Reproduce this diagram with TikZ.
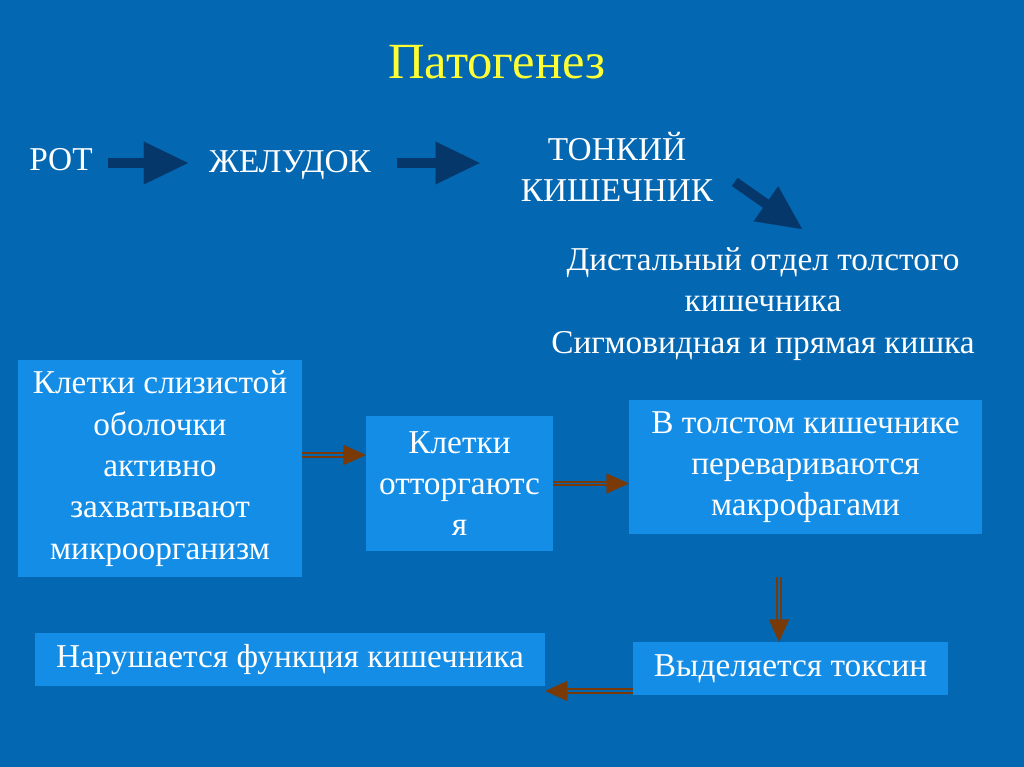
\documentclass[tikz,border=0pt]{standalone}
\usepackage{fontspec}
\setmainfont{Liberation Serif}
\usepackage{tikz}
\usetikzlibrary{arrows.meta}
\definecolor{SlideBlue}{HTML}{0467B1}
\definecolor{BoxBlue}{HTML}{138DE6}
\definecolor{FlowDark}{HTML}{06376A}
\definecolor{FlowBrown}{HTML}{7A3A08}
\definecolor{TitleYellow}{HTML}{FFFF33}

\begin{document}
\begin{tikzpicture}[x=0.75pt,y=-0.75pt,
    lbl/.style={text=white,inner sep=0pt,align=center,
      font=\fontsize{25}{31}\selectfont},
    box/.style={lbl,fill=BoxBlue},
    flow/.style={draw=FlowDark,line width=7.5pt,
      -{Triangle[length=33pt,width=32pt,line width=0.01pt]}},
    dbl/.style={draw=FlowBrown,line width=1.5pt,double=SlideBlue,
      double distance=1.2pt,
      -{Triangle[length=16.5pt,width=15pt,line width=0.01pt]}}]
  \fill[SlideBlue] (0,0) rectangle (1024,767);
  \useasboundingbox (0,0) rectangle (1024,767);

  \node[text=TitleYellow,inner sep=0pt,font=\fontsize{38}{44}\selectfont]
    (title) at (497,62) {Патогенез};

  % route of the infection
  \node[lbl] (rot) at (61,160) {РОТ};
  \node[lbl] (zheludok) at (290,165) {ЖЕЛУДОК};
  \node[lbl] (tonkiy) at (617,167) {ТОНКИЙ\\КИШЕЧНИК};
  \node[lbl] (distal) at (763,304)
    {Дистальный отдел толстого\\кишечника\\Сигмовидная и прямая кишка};
  \coordinate (toprow) at (0,163);
  \coordinate (diagtip) at (802,229);
  \draw[flow,shorten <=11.25pt,shorten >=15.75pt]
    (rot.east |- toprow) -- (zheludok.west |- toprow);
  \draw[flow,shorten <=19.5pt,shorten >=30.75pt]
    (zheludok.east |- toprow) -- (tonkiy.west |- toprow);
  \draw[flow,shorten <=19.5pt] (tonkiy.east) -- (diagtip);

  % what happens in the bowel
  \node[box,minimum width=213pt,minimum height=162.75pt] (cells) at (160,468.5)
    {Клетки слизистой\\оболочки\\активно\\захватывают\\микроорганизм};
  \node[box,minimum width=140.25pt,minimum height=101.25pt] (reject) at (459.5,483.5)
    {Клетки\\отторгаютс\\я};
  \node[box,minimum width=264.75pt,minimum height=100.5pt] (digest) at (805.5,467)
    {В толстом кишечнике\\перевариваются\\макрофагами};
  \node[box,minimum width=236.25pt,minimum height=39.75pt] (toxin) at (790.5,668.5)
    {Выделяется токсин};
  \node[box,minimum width=382.5pt,minimum height=39.75pt] (function) at (290,659.5)
    {Нарушается функция кишечника};

  \coordinate (upline) at (0,455);
  \coordinate (downline) at (779,0);
  \coordinate (lowline) at (0,691);
  \draw[dbl] (cells.east |- upline) -- (reject.west |- upline);
  \draw[dbl] (reject.east) -- (reject.east -| digest.west);
  \draw[dbl,shorten <=32.25pt] (digest.south -| downline) -- (toxin.north -| downline);
  \draw[dbl] (toxin.west |- lowline) -- (function.east |- lowline);
\end{tikzpicture}
\end{document}
